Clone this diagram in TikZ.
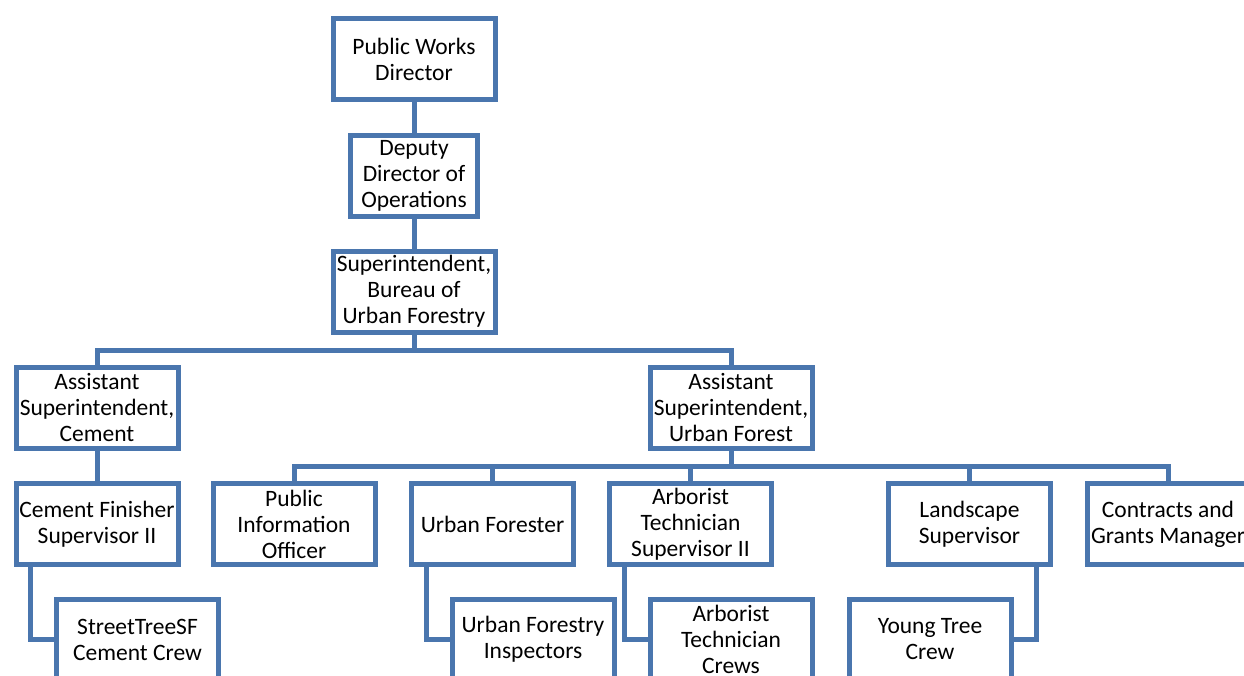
\documentclass[tikz,border=0pt]{standalone}
\usepackage{fontspec}
\setmainfont{Carlito}
\definecolor{orgblue}{RGB}{74,118,174}
\tikzset{
  unit/.style={draw=orgblue, line width=5pt, fill=white, minimum width=162pt,
    minimum height=81pt, inner sep=0pt, align=center,
    font=\fontsize{23.5}{26}\selectfont},
  link/.style={draw=orgblue, line width=5pt, line join=miter}
}
\begin{document}
\begin{tikzpicture}[x=1pt,y=-1pt]
      \useasboundingbox (0,0) rectangle (1244,675);
      \node[unit] (pwd) at (414,59) {Public Works\\Director};
      \node[unit, minimum width=127pt] (ddo) at (414,175.5) {Deputy\\Director of\\Operations};
      \node[unit] (sup) at (414,291.5) {Superintendent,\\Bureau of\\Urban Forestry};
      \node[unit] (asc) at (97,407.5) {Assistant\\Superintendent,\\Cement};
      \node[unit] (asu) at (731,407.5) {Assistant\\Superintendent,\\Urban Forest};
      \node[unit] (cfs) at (97,524) {Cement Finisher\\Supervisor II};
      \node[unit] (pio) at (294,524) {Public\\Information\\Officer};
      \node[unit] (ufo) at (492.5,524) {Urban Forester};
      \node[unit] (ats) at (690.5,524) {Arborist\\Technician\\Supervisor II};
      \node[unit] (lsv) at (969.5,524) {Landscape\\Supervisor};
      \node[unit] (cgm) at (1168,524) {Contracts and\\Grants Manager};
      \node[unit] (stc) at (137.5,639.5) {StreetTreeSF\\Cement Crew};
      \node[unit] (ufi) at (533,639.5) {Urban Forestry\\Inspectors};
      \node[unit] (atc) at (731,639.5) {Arborist\\Technician\\Crews};
      \node[unit] (ytc) at (930,639.5) {Young Tree\\Crew};
      \coordinate (bus1) at (414,350);
      \coordinate (bus2) at (731,466);
      \draw [link] (pwd) -- (ddo);
      \draw [link] (ddo) -- (sup);
      \draw [link] (sup) -- (bus1) -| (asc);
      \draw [link] (bus1) -| (asu);
      \draw [link] (asc) -- (cfs);
      \draw [link] (asu) -- (bus2);
      \foreach \n in {pio,ufo,ats,lsv,cgm}
        \draw [link] (bus2) -| (\n);
      \draw [link] ([xshift=17pt]cfs.south west) |- (stc.west);
      \draw [link] ([xshift=17pt]ufo.south west) |- (ufi.west);
      \draw [link] ([xshift=17pt]ats.south west) |- (atc.west);
      \draw [link] ([xshift=-17pt]lsv.south east) |- (ytc.east);
    \end{tikzpicture}
\end{document}
